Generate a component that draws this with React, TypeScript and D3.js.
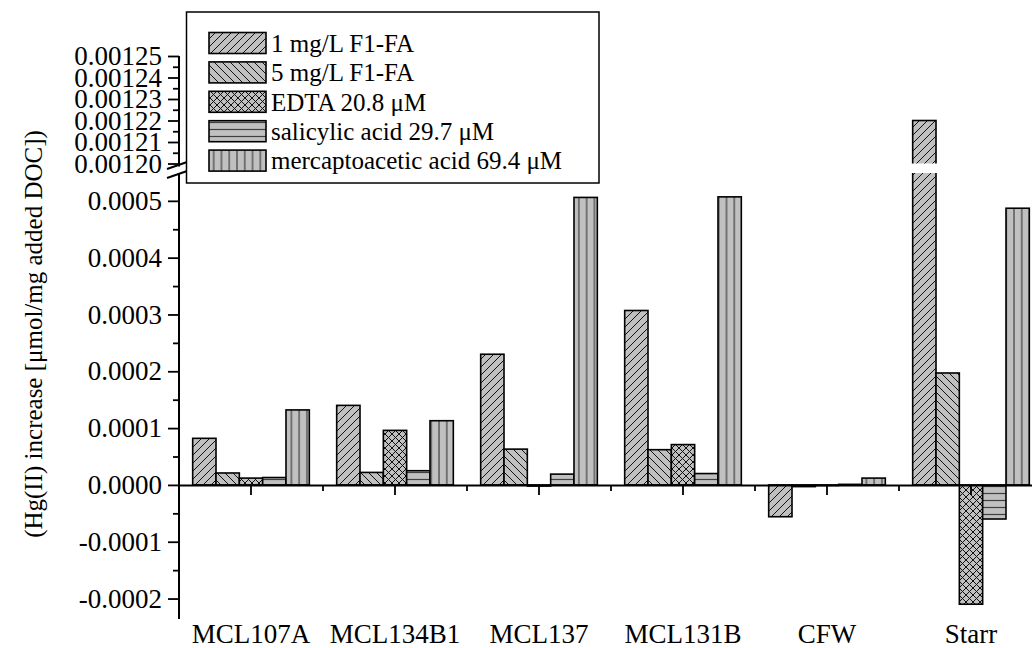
import React, { useRef, useEffect } from 'react';
import * as d3 from 'd3';

// categories and series (values in µmol/mg added DOC)
const categories = ['MCL107A', 'MCL134B1', 'MCL137', 'MCL131B', 'CFW', 'Starr'];
const seriesNames = [
  '1 mg/L F1-FA',
  '5 mg/L F1-FA',
  'EDTA 20.8 μM',
  'salicylic acid 29.7 μM',
  'mercaptoacetic acid 69.4 μM',
];
const f1fa1 = [0.000082, 0.00014, 0.00023, 0.000307, -0.000056, 0.00122];
const f1fa5 = [0.000021, 0.000022, 0.000063, 0.000062, -0.000003, 0.000197];
const edta = [0.000012, 0.000096, -0.000002, 0.000071, -0.000001, -0.00021];
const salicylic = [0.000013, 0.000025, 0.000019, 0.00002, 0.000001, -0.00006];
const mercapto = [0.000132, 0.000113, 0.000506, 0.000507, 0.000012, 0.000487];

const lowTicks = [-0.0002, -0.0001, 0, 0.0001, 0.0002, 0.0003, 0.0004, 0.0005];
const lowTickLabels = ['-0.0002', '-0.0001', '0.0000', '0.0001', '0.0002', '0.0003', '0.0004', '0.0005'];
const lowMinor = [-0.00015, -0.00005, 0.00005, 0.00015, 0.00025, 0.00035, 0.00045];
const upTicks = [0.0012, 0.00121, 0.00122, 0.00123, 0.00124, 0.00125];
const upTickLabels = ['0.00120', '0.00121', '0.00122', '0.00123', '0.00124', '0.00125'];
const upMinor = [0.001205, 0.001215, 0.001225, 0.001235, 0.001245];

const yTitle = '(Hg(II) increase [μmol/mg added DOC])';
const FONT = "'Liberation Serif', 'Times New Roman', 'DejaVu Serif', serif";

export default function App() {
  const ref = useRef<SVGSVGElement>(null);

  useEffect(() => {
    const width = 1032;
    const height = 648;
    const svg = d3.select(ref.current);
    svg.selectAll('*').remove();
    svg.attr('width', width).attr('height', height).style('font-family', FONT);

    const series = [f1fa1, f1fa5, edta, salicylic, mercapto];

    // x: groups, then bars inside a group
    const x = d3.scaleBand<string>()
      .domain(categories)
      .range([179, 1043])
      .paddingInner(0.19)
      .paddingOuter(0.095);
    const xs = d3.scaleBand<string>().domain(seriesNames).range([0, x.bandwidth()]);

    // broken y axis: lower and upper segments
    const yLow = d3.scaleLinear().domain([-0.000236, 0.000549]).range([619, 173]);
    const yUp = d3.scaleLinear().domain([0.0012, 0.00125]).range([163.5, 56]);

    // hatch patterns
    const defs = svg.append('defs');
    const gray = '#c0c0c0';
    const mkPat = (id: string, size: number, d: string, color: string, sw: number) => {
      const p = defs.append('pattern')
        .attr('id', id)
        .attr('patternUnits', 'userSpaceOnUse')
        .attr('width', size)
        .attr('height', size);
      p.append('rect').attr('width', size).attr('height', size).attr('fill', gray);
      p.append('path').attr('d', d).attr('stroke', color).attr('stroke-width', sw).attr('fill', 'none');
    };
    mkPat('p0', 8, 'M0,8L8,0M-2,2L2,-2M6,10L10,6', '#111', 1);
    mkPat('p1', 8, 'M0,0L8,8M-2,6L2,10M6,-2L10,2', '#111', 1);
    mkPat('p2', 7, 'M0,7L7,0M-2,2L2,-2M5,9L9,5M0,0L7,7M-2,5L2,9M5,-2L9,2', '#111', 1);
    mkPat('p3', 7, 'M0,3.5L7,3.5', '#404040', 1.2);
    mkPat('p4', 7.77, 'M3.9,0L3.9,7.77', '#404040', 1.2);

    defs.append('clipPath').attr('id', 'clipLow')
      .append('rect').attr('x', 0).attr('y', 173).attr('width', width).attr('height', 480);
    defs.append('clipPath').attr('id', 'clipUp')
      .append('rect').attr('x', 0).attr('y', 0).attr('width', width).attr('height', 163.5);

    // bars
    const low = svg.append('g').attr('clip-path', 'url(#clipLow)');
    const up = svg.append('g').attr('clip-path', 'url(#clipUp)');
    categories.forEach((c, ci) => {
      series.forEach((vals, si) => {
        const v = vals[ci];
        const bx = (x(c) as number) + (xs(seriesNames[si]) as number);
        const bw = xs.bandwidth();
        low.append('rect')
          .attr('x', bx)
          .attr('y', yLow(Math.max(v, 0)))
          .attr('width', bw)
          .attr('height', Math.abs(yLow(v) - yLow(0)))
          .attr('fill', `url(#p${si})`)
          .attr('stroke', '#000')
          .attr('stroke-width', 1.6);
        if (v > 0.0012) {
          up.append('rect')
            .attr('x', bx)
            .attr('y', yUp(v))
            .attr('width', bw)
            .attr('height', yUp(0.0012) - yUp(v) + 20)
            .attr('fill', `url(#p${si})`)
            .attr('stroke', '#000')
            .attr('stroke-width', 1.6);
        }
      });
    });

    const styleAxis = (g: any, fs: number) => {
      g.attr('font-family', null);
      g.selectAll('text').style('font-family', FONT).attr('font-size', fs).attr('fill', '#000');
      g.selectAll('line').attr('stroke', '#000').attr('stroke-width', 1.8);
      g.selectAll('path').attr('stroke', '#000').attr('stroke-width', 2);
    };

    // x axis on the zero line
    const xAxis = svg.append('g')
      .attr('transform', `translate(0,${yLow(0)})`)
      .call(d3.axisBottom(x).tickSize(10).tickSizeOuter(0).tickFormat(() => ''));
    styleAxis(xAxis, 27);
    const minorX = categories.map((c) => (x(c) as number) - (x.step() * x.paddingInner()) / 2);
    svg.append('g').selectAll('line').data(minorX).join('line')
      .attr('x1', (d) => d).attr('x2', (d) => d)
      .attr('y1', yLow(0)).attr('y2', yLow(0) + 6)
      .attr('stroke', '#000').attr('stroke-width', 1.8);

    // x labels
    svg.append('g').selectAll('text').data(categories).join('text')
      .attr('x', (d) => (x(d) as number) + x.bandwidth() / 2)
      .attr('y', 643)
      .attr('text-anchor', 'middle')
      .style('font-family', FONT)
      .attr('font-size', 27)
      .text((d) => d);

    // lower y axis
    const yLowAxis = svg.append('g')
      .attr('transform', 'translate(179,0)')
      .call(d3.axisLeft(yLow).tickValues(lowTicks).tickSize(11).tickSizeOuter(0).tickPadding(6)
        .tickFormat((d, i) => lowTickLabels[i]));
    styleAxis(yLowAxis, 27);
    yLowAxis.select('.domain').attr('d', `M0,${yLow.range()[1] + 1}V${yLow.range()[0]}`);
    const yLowMinor = svg.append('g')
      .attr('transform', 'translate(179,0)')
      .call(d3.axisLeft(yLow).tickValues(lowMinor).tickSize(6).tickSizeOuter(0).tickFormat(() => ''));
    styleAxis(yLowMinor, 27);
    yLowMinor.select('.domain').remove();

    // upper y axis
    const yUpAxis = svg.append('g')
      .attr('transform', 'translate(179,0)')
      .call(d3.axisLeft(yUp).tickValues(upTicks).tickSize(11).tickSizeOuter(0).tickPadding(6)
        .tickFormat((d, i) => upTickLabels[i]));
    styleAxis(yUpAxis, 27);
    yUpAxis.select('.domain').attr('d', `M0,${yUp.range()[1]}V${yUp.range()[0] + 3}`);
    const yUpMinor = svg.append('g')
      .attr('transform', 'translate(179,0)')
      .call(d3.axisLeft(yUp).tickValues(upMinor).tickSize(6).tickSizeOuter(0).tickFormat(() => ''));
    styleAxis(yUpMinor, 27);
    yUpMinor.select('.domain').remove();

    // break marks
    const brk = svg.append('g').attr('stroke', '#000').attr('stroke-width', 2);
    brk.append('line').attr('x1', 167).attr('y1', 169).attr('x2', 190).attr('y2', 161);
    brk.append('line').attr('x1', 167).attr('y1', 178).attr('x2', 190).attr('y2', 170);

    // y title
    svg.append('text')
      .attr('transform', 'translate(42,334) rotate(-90)')
      .attr('text-anchor', 'middle')
      .style('font-family', FONT)
      .attr('font-size', 25)
      .text(yTitle);

    // legend
    const lg = svg.append('g');
    lg.append('rect')
      .attr('x', 186.5).attr('y', 12).attr('width', 412.5).attr('height', 171)
      .attr('fill', '#fff').attr('stroke', '#000').attr('stroke-width', 1.5);
    seriesNames.forEach((name, i) => {
      const cy = 43 + i * 29.4;
      lg.append('rect')
        .attr('x', 209).attr('y', cy - 10.5).attr('width', 57).attr('height', 21)
        .attr('fill', `url(#p${i})`).attr('stroke', '#000').attr('stroke-width', 1.6);
      lg.append('text')
        .attr('x', 271).attr('y', cy).attr('dy', '0.35em')
        .style('font-family', FONT)
        .attr('font-size', 25)
        .text(name);
    });
  }, []);

  return <svg ref={ref} style={{ position: 'absolute', left: 0, top: 0, background: '#fff' }} />;
}
